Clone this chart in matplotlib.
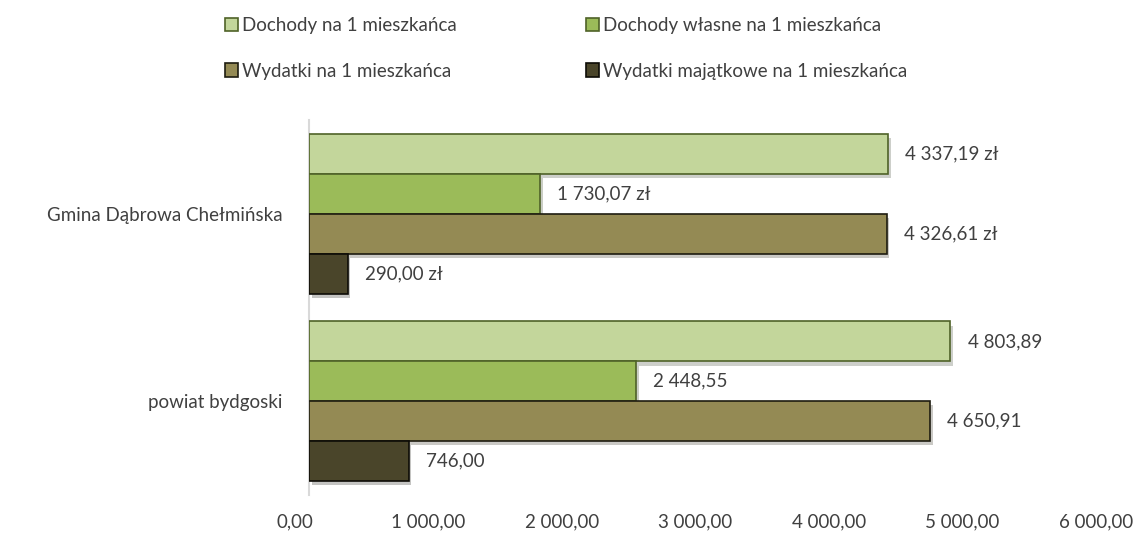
import matplotlib
matplotlib.use('Agg')
from matplotlib import pyplot as plt
from matplotlib import patheffects as pe
from matplotlib import transforms
from matplotlib.patches import Patch
import numpy as np

plt.rcParams['font.family'] = ['Lato', 'DejaVu Sans']

categories = ['Gmina Dąbrowa Chełmińska', 'powiat bydgoski']
suffixes = [' zł', '']
series = ['Dochody na 1 mieszkańca', 'Dochody własne na 1 mieszkańca',
          'Wydatki na 1 mieszkańca', 'Wydatki majątkowe na 1 mieszkańca']
dochody = [4337.19, 4803.89]
dochody_wlasne = [1730.07, 2448.55]
wydatki = [4326.61, 4650.91]
wydatki_majatkowe = [290.00, 746.00]
xticks = [0, 1000, 2000, 3000, 4000, 5000, 6000]

colors = ['#C3D69B', '#9BBB59', '#948A54', '#4A452A']
edges = ['#4F6228', '#4F6228', '#1E1C10', '#0D0C06']
text_col = '#404040'
fs = 13.5


def fmt(v):
    s = '{:,.2f}'.format(v)
    return s.replace(',', ' ').replace('.', ',')


fig = plt.figure(figsize=(11.45, 5.38), dpi=100)
ax = fig.add_axes([309/1145, 1 - 495/538, 801/1145, 375/538])

y = np.arange(len(categories))
h = 40/188
values = [dochody, dochody_wlasne, wydatki, wydatki_majatkowe]
shadow = [pe.SimplePatchShadow(offset=(2, -3), alpha=0.25), pe.Normal()]
for i, vals in enumerate(values):
    off = (i - 1.5) * h
    bars = ax.barh(y + off, vals, height=h, color=colors[i], edgecolor=edges[i],
                   linewidth=1.2, zorder=3)
    for b in bars:
        b.set_path_effects(shadow)
    for j, v in enumerate(vals):
        ax.text(v + 130, y[j] + off, fmt(v) + suffixes[j], va='center', ha='left',
                fontsize=fs, color=text_col)

ax.set_xlim(0, 6000)
ax.set_ylim(1.5, -0.5)
ax.set_yticks(y)
ax.set_yticklabels(categories, fontsize=fs, color=text_col)
ax.set_xticks(xticks)
ax.set_xticklabels([fmt(t) for t in xticks], fontsize=fs, color=text_col)
ax.tick_params(axis='both', length=0)
ax.tick_params(axis='y', pad=19)
ax.tick_params(axis='x', pad=13)
# nudge x tick labels a bit left, like the original layout
shift = transforms.ScaledTranslation(-14/100, 0, fig.dpi_scale_trans)
for lab in ax.get_xticklabels():
    lab.set_transform(lab.get_transform() + shift)
for s in ['top', 'right', 'bottom']:
    ax.spines[s].set_visible(False)
ax.spines['left'].set_color('#D9D9D9')
ax.spines['left'].set_linewidth(1.5)

# row-major legend order: column 1 = Dochody / Wydatki, column 2 = własne / majątkowe
order = [0, 2, 1, 3]
handles = [Patch(facecolor=colors[k], edgecolor=edges[k], linewidth=1.2) for k in order]
fig.legend(handles, [series[k] for k in order], loc='upper left',
           bbox_to_anchor=(208/1145, 1 - 0/538), ncol=2,
           frameon=False, fontsize=fs, handlelength=0.7, handleheight=0.7,
           handletextpad=0.2, columnspacing=6.9, labelspacing=1.53,
           labelcolor=text_col)

fig.savefig('out.png', dpi=100)
